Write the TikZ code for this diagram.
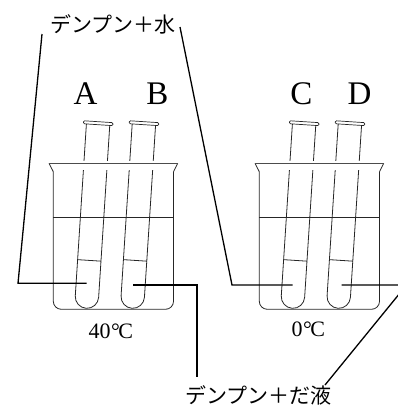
\documentclass[tikz,border=0pt]{standalone}
\usepackage{fontspec}
\setmainfont{Liberation Serif}
\newfontfamily\jp{Noto Sans CJK JP}
\newcommand\degc{\kern0.5pt\textdegree\kern-1.5pt C}
\begin{document}
\begin{tikzpicture}[x=1pt,y=-1pt,
  glass/.style={line width=0.8pt,black!85},
  rimline/.style={line width=1.2pt,black!70},
  leader/.style={line width=1.3pt,black},
  jptext/.style={font=\jp\fontsize{21}{21}\selectfont,inner sep=0pt},
  letter/.style={font=\fontsize{33}{33}\selectfont,inner sep=0pt},
  temp/.style={font=\fontsize{22}{22}\selectfont,inner sep=0pt},
  tube/.pic={
    \draw[glass] (-11.7,-184) -- (-11.7,-11.7) .. controls (-11.7,-5.24) and (-6.46,0) .. (0,0)
      .. controls (6.46,0) and (11.7,-5.24) .. (11.7,-11.7) -- (11.7,-184);
    \draw[glass] (-11.7,-48) -- (11.7,-48);
    \draw[glass,line width=0.7pt,rounded corners=1.2pt] (-14.8,-187) rectangle (14.8,-184);
  },
  beaker/.pic={
    \draw[glass] (53.3,217.3) -- (173.5,217.3);
    \pic[rotate=-3.7] at (86.2,308.3) {tube};
    \pic[rotate=-3.7] at (132,308.3) {tube};
    \fill[white] (55,161.3) rectangle (172,169.7);
    \draw[glass] (49,163.3) -- (53.3,171.7);
    \draw[glass,rounded corners=8pt] (53.3,171.7) -- (53.3,309.3) -- (173.5,309.3) -- (173.5,171.7);
    \draw[glass] (173.5,171.7) -- (177.7,163.3);
    \draw[rimline] (49,163.3) -- (177.7,163.3);
  }]
\useasboundingbox (0,0) rectangle (398,407);
\clip (0,0) rectangle (398,407);
\pic at (0,0) {beaker};
\pic at (206,0) {beaker};

\node[jptext] (water) at (113,24) {デンプン＋水};
\node[jptext] (saliva) at (258.3,395) {デンプン＋だ液};
\node[letter] (A) at (85.5,93.3) {A};
\node[letter] (B) at (157.5,93.3) {B};
\node[letter] (C) at (301.3,93.3) {C};
\node[letter] (D) at (359.5,93.3) {D};
\node[temp] (t40) at (110.8,331) {40\degc};
\node[temp] (t0) at (308.3,329) {0\degc};

\coordinate (w1) at (42,34);
\coordinate (w1b) at (18,283.3);
\coordinate (tA) at (86.5,283.3);
\coordinate (w2) at (180,27);
\coordinate (w2b) at (232,285);
\coordinate (tC) at (292.7,285);
\coordinate (tB) at (133.3,285);
\coordinate (s1b) at (197,285);
\coordinate (s1) at (197,376.7);
\coordinate (tD) at (341.7,285);
\coordinate (s2b) at (406.5,285);
\coordinate (s2) at (325,385);

\draw[leader] (w1) -- (w1b) -- (tA);
\draw[leader] (w2) -- (w2b) -- (tC);
\draw[leader] (tB) -- (s1b) -- (s1);
\draw[leader] (tD) -- (s2b) -- (s2);
\end{tikzpicture}
\end{document}
